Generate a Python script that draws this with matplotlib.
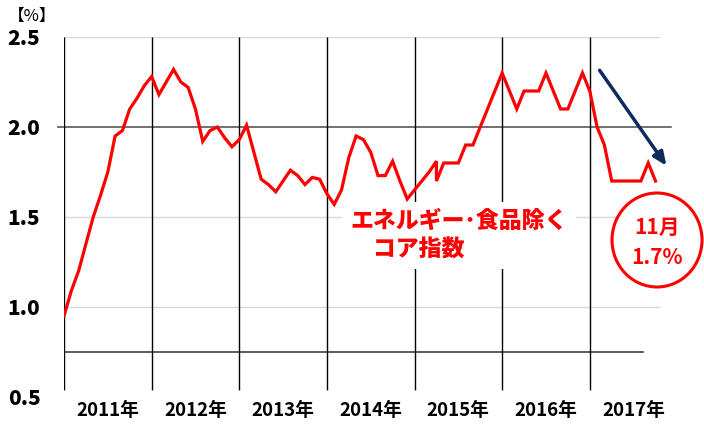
import matplotlib
matplotlib.use("Agg")
import matplotlib.pyplot as plt
from matplotlib.patches import Ellipse

plt.rcParams['font.family'] = ['Noto Sans CJK JP', 'DejaVu Sans']

# monthly index from Jan 2011 (0) to Nov 2017; month 51 appears twice (series splice)
months = list(range(52)) + [51] + list(range(52, 82))
core_cpi = [
    0.95, 1.09, 1.20, 1.35, 1.50, 1.62, 1.75, 1.95, 1.98, 2.10, 2.16, 2.23,
    2.28, 2.18, 2.25, 2.32, 2.25, 2.22, 2.10, 1.92, 1.98, 2.00, 1.94, 1.89,
    1.93, 2.01, 1.86, 1.71, 1.68, 1.64, 1.70, 1.76, 1.73, 1.68, 1.72, 1.71,
    1.63, 1.57, 1.65, 1.83, 1.95, 1.93, 1.86, 1.73, 1.73, 1.81, 1.70, 1.60,
    1.65, 1.70, 1.75, 1.81, 1.70,
    1.80, 1.80, 1.80, 1.90, 1.90, 2.00, 2.10, 2.20,
    2.30, 2.20, 2.10, 2.20, 2.20, 2.20, 2.30, 2.20, 2.10, 2.10, 2.20, 2.30,
    2.20, 2.00, 1.90, 1.70, 1.70, 1.70, 1.70, 1.70, 1.80, 1.70,
]
years = ["2011年", "2012年", "2013年", "2014年", "2015年", "2016年", "2017年"]
yticks = [0.5, 1.0, 1.5, 2.0, 2.5]

fig = plt.figure(figsize=(7.04, 4.28), dpi=100)
ax = fig.add_axes([64 / 704, 1 - 397 / 428, 601 / 704, 360 / 428])
ax.set_xlim(0, 82.3)
ax.set_ylim(0.5, 2.5)

# grid lines
for y in (1.0, 1.5, 2.5):
    ax.axhline(y, xmin=0, xmax=0.99, color="#d9d9d9", lw=1.0, zorder=1)
ax.axhline(2.0, xmin=-0.01, xmax=1.01, color="#595959", lw=1.2, zorder=1, clip_on=False)
ax.axhline(0.75, xmin=-0.003, xmax=0.963, color="#404040", lw=1.2, zorder=1)
ax.vlines([12 * k for k in range(len(years))], 0.54, 2.5, color="black", lw=1.0, zorder=2)

ax.plot(months, core_cpi, color="#ff0000", lw=2.3, zorder=3, solid_joinstyle="miter")

for s in ax.spines.values():
    s.set_visible(False)
ax.set_yticks(yticks)
ax.set_yticklabels([f"{v:.1f}" for v in yticks], fontsize=15, fontweight="black")
ax.set_xticks([6 + 12 * k for k in range(len(years))])
ax.set_xticklabels(years, fontsize=13.5, fontweight="bold")
ax.tick_params(length=0)
ax.tick_params(axis="y", pad=17)
ax.tick_params(axis="x", pad=3)

fig.text(8 / 704, 1 - 16 / 428, "【%】", fontsize=12, va="center", ha="left")

ax.text(0.476, 0.52, "エネルギー･食品除く\n　コア指数", transform=ax.transAxes,
        color="#ff0000", fontsize=16.5, fontweight="black", ha="left", va="top",
        linespacing=1.3, zorder=5,
        bbox=dict(facecolor="white", edgecolor="none", pad=6))

fig.patches.append(Ellipse((657 / 704, 1 - 240 / 428), 90 / 704, 94 / 428,
                           transform=fig.transFigure, facecolor="white",
                           edgecolor="#ff0000", lw=2.2, zorder=6))
fig.text(657 / 704, 1 - 227 / 428, "11月", color="#ff0000", fontsize=15,
         fontweight="bold", ha="center", va="center", zorder=7)
fig.text(657 / 704, 1 - 258 / 428, "1.7%", color="#ff0000", fontsize=15,
         fontweight="bold", ha="center", va="center", zorder=7)

ax.annotate("", xy=(668 / 704, 1 - 168 / 428), xytext=(598 / 704, 1 - 68 / 428),
            xycoords="figure fraction", textcoords="figure fraction",
            arrowprops=dict(arrowstyle="-|>,head_length=0.8,head_width=0.35",
                            color="#0d2b5e", lw=2.5), zorder=6)

fig.savefig("out.png", dpi=100)
